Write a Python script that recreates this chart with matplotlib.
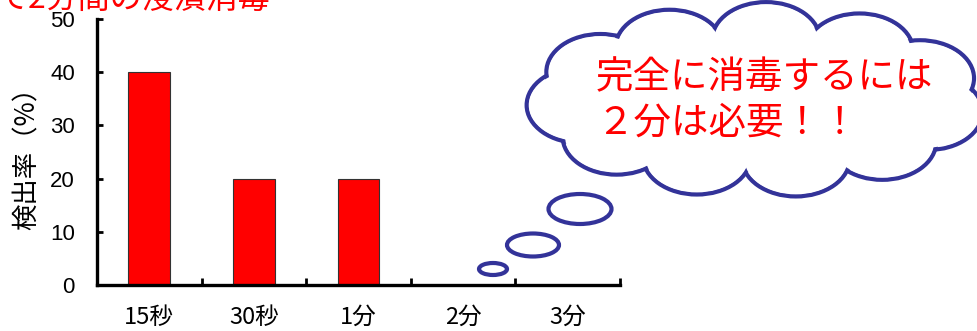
import numpy as np
import matplotlib
matplotlib.use('Agg')
import matplotlib.pyplot as plt
from matplotlib.patches import Ellipse

plt.rcParams['font.family'] = ['Noto Sans CJK JP', 'DejaVu Sans']

# data
categories = ['15秒', '30秒', '1分', '2分', '3分']
detection_rate = [40, 20, 20, 0, 0]
y_ticks = [0, 10, 20, 30, 40, 50]
y_label = '検出率（%）'
title_text = 'で2分間の浸漬消毒'
cloud_lines = ['完全に消毒するには', '２分は必要！！']

W, H = 977, 331
blue = '#333399'

fig = plt.figure(figsize=(W / 100, H / 100), dpi=100)

# main bar chart
ax = fig.add_axes([97 / W, 1 - 285 / H, 523 / W, 266 / H])
x = np.arange(len(categories))
ax.bar(x, detection_rate, width=0.4, color='#ff0000', edgecolor='#333333',
       linewidth=0.8, zorder=2)
ax.set_xlim(-0.5, len(categories) - 0.5)
ax.set_ylim(0, 50)
ax.set_yticks(y_ticks)
ax.set_xticks(x, categories)
ax.set_xticks(np.arange(0.5, len(categories)), minor=True)
for s in ['top', 'right']:
    ax.spines[s].set_visible(False)
for s in ['left', 'bottom']:
    ax.spines[s].set_linewidth(2.4)
ax.tick_params(axis='y', direction='in', length=4, width=2, labelsize=16, pad=16)
ax.tick_params(axis='x', which='major', length=0, labelsize=17, pad=15)
ax.tick_params(axis='x', which='minor', direction='in', length=5, width=2)
for lab in ax.get_yticklabels():
    lab.set_fontfamily('Liberation Sans')
ax.set_ylabel(y_label, fontsize=19, labelpad=7)

# overlay in pixel coordinates for the thought cloud
ov = fig.add_axes([0, 0, 1, 1])
ov.set_xlim(0, W)
ov.set_ylim(H, 0)
ov.axis('off')
ov.patch.set_visible(False)

# title, cut off at the top edge
ov.text(-4, 8, title_text, color='#ff0000', fontsize=23, ha='left', va='baseline')

# cloud made of overlapping lobes
cx, cy = 756, 100
A, B = 176, 60
n_lobes = 11
angles = np.linspace(0, 2 * np.pi, n_lobes, endpoint=False) + 0.2
lw = 3
for t in angles:
    ov.add_patch(Ellipse((cx + A * np.cos(t), cy + B * np.sin(t)), 108, 76,
                         fc='white', ec=blue, lw=lw, zorder=2))
for t in angles:
    ov.add_patch(Ellipse((cx + A * np.cos(t), cy + B * np.sin(t)), 103, 71,
                         fc='white', ec='none', zorder=3))
ov.add_patch(Ellipse((cx, cy), 2 * A, 2 * B, fc='white', ec='none', zorder=3))

# small bubbles
for (bx, by, bw, bh) in [(580, 209, 63, 30), (533, 245, 52, 23), (493, 269, 28, 12)]:
    ov.add_patch(Ellipse((bx, by), bw, bh, fc='white', ec=blue, lw=lw, zorder=2))

ov.text(596, 78, cloud_lines[0], color='#ff0000', fontsize=27, ha='left',
        va='center', zorder=5)
ov.text(596, 123, cloud_lines[1], color='#ff0000', fontsize=27, ha='left',
        va='center', zorder=5)

fig.savefig('out.png', dpi=100)
